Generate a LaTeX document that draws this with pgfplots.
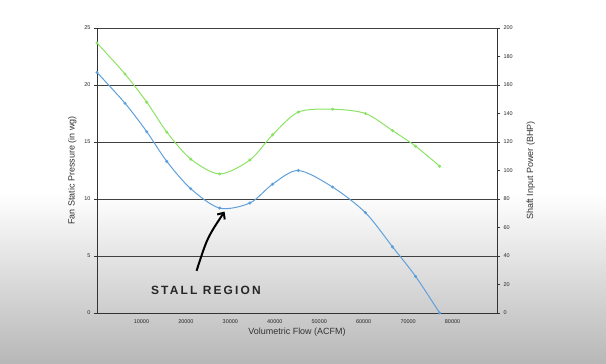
\documentclass[border=0pt]{standalone}
\usepackage{pgfplots}
\pgfplotsset{compat=1.18}
\usepackage{fontspec}
\setmainfont{Liberation Sans}
\usetikzlibrary{arrows.meta}
\definecolor{cblue}{RGB}{95,160,220}
\definecolor{cgreen}{RGB}{140,226,100}
\begin{document}
\begin{tikzpicture}[x=1bp,y=1bp]
\path[use as bounding box] (0,0) rectangle (606,363);
\shade[top color=white, bottom color=black!28] (0,0) rectangle (606,170);
\begin{axis}[at={(97bp,50bp)}, anchor=south west, scale only axis,
  width=400bp, height=285bp,
  xmin=0, xmax=90000, ymin=0, ymax=25,
  axis x line*=bottom, axis y line*=left,
  axis line style={black!80, line width=0.8pt, -},
  ytick={0,5,...,25}, xtick={10000,20000,...,80000},
  scaled x ticks=false,
  xticklabel style={/pgf/number format/.cd, fixed, set thousands separator={}, assume math mode=true},
  yticklabel style={/pgf/number format/assume math mode=true},
  ticklabel style={font=\fontsize{5.5}{6}\selectfont, text=black!85},
  xtick style={draw=none},
  tick align=outside, major tick length=3bp,
  ytick style={black!80, line width=0.6pt},
  ymajorgrids, grid style={black!75, line width=0.9pt},
  xlabel={Volumetric Flow (ACFM)},
  ylabel={Fan Static Pressure (in wg)},
  label style={font=\fontsize{9}{10}\selectfont, text=black!80},
  xlabel style={yshift=2bp},
  ylabel style={yshift=1bp},
  clip=false,
]
\addplot[cblue, line width=1pt, smooth, tension=0.5, mark=*, mark size=1pt] coordinates {
(0,21.1) (6300,18.4) (11200,15.9) (15700,13.3) (21100,10.9) (27600,9.2)
(34400,9.65) (39500,11.3) (45300,12.5) (53000,11.05) (60400,8.8)
(66500,5.8) (71700,3.2) (77100,0)
};
\draw[black, line width=2pt, -{Straight Barb[length=5bp,width=9bp]}] (axis cs:22400,3.7) .. controls (axis cs:24800,6.6) .. (axis cs:28700,8.9);
\node[font=\bfseries\fontsize{12}{14}\selectfont\addfontfeature{LetterSpace=18}, text=black!85] at (axis cs:24500,2.0) {STALL REGION};
\end{axis}
\begin{axis}[at={(97bp,50bp)}, anchor=south west, scale only axis,
  width=400bp, height=285bp,
  xmin=0, xmax=90000, ymin=0, ymax=200,
  axis x line=none, axis y line*=right,
  axis line style={black!80, line width=0.8pt, -},
  ytick={0,20,...,200},
  yticklabel style={/pgf/number format/assume math mode=true},
  ticklabel style={font=\fontsize{5.5}{6}\selectfont, text=black!85},
  tick align=outside, major tick length=3bp,
  ytick style={black!80, line width=0.6pt},
  ylabel={Shaft Input Power (BHP)},
  label style={font=\fontsize{9}{10}\selectfont, text=black!80},
  ylabel style={yshift=-7bp},
]
\addplot[cgreen, line width=1pt, smooth, tension=0.5, mark=*, mark size=1pt] coordinates {
(0,189.5) (6300,167.7) (11200,148) (15700,127) (21100,108) (27600,97.6)
(34400,107.4) (39500,125) (45300,141) (53000,143) (60400,140)
(66500,128) (71700,117) (77100,103)
};
\end{axis}
\end{tikzpicture}
\end{document}
